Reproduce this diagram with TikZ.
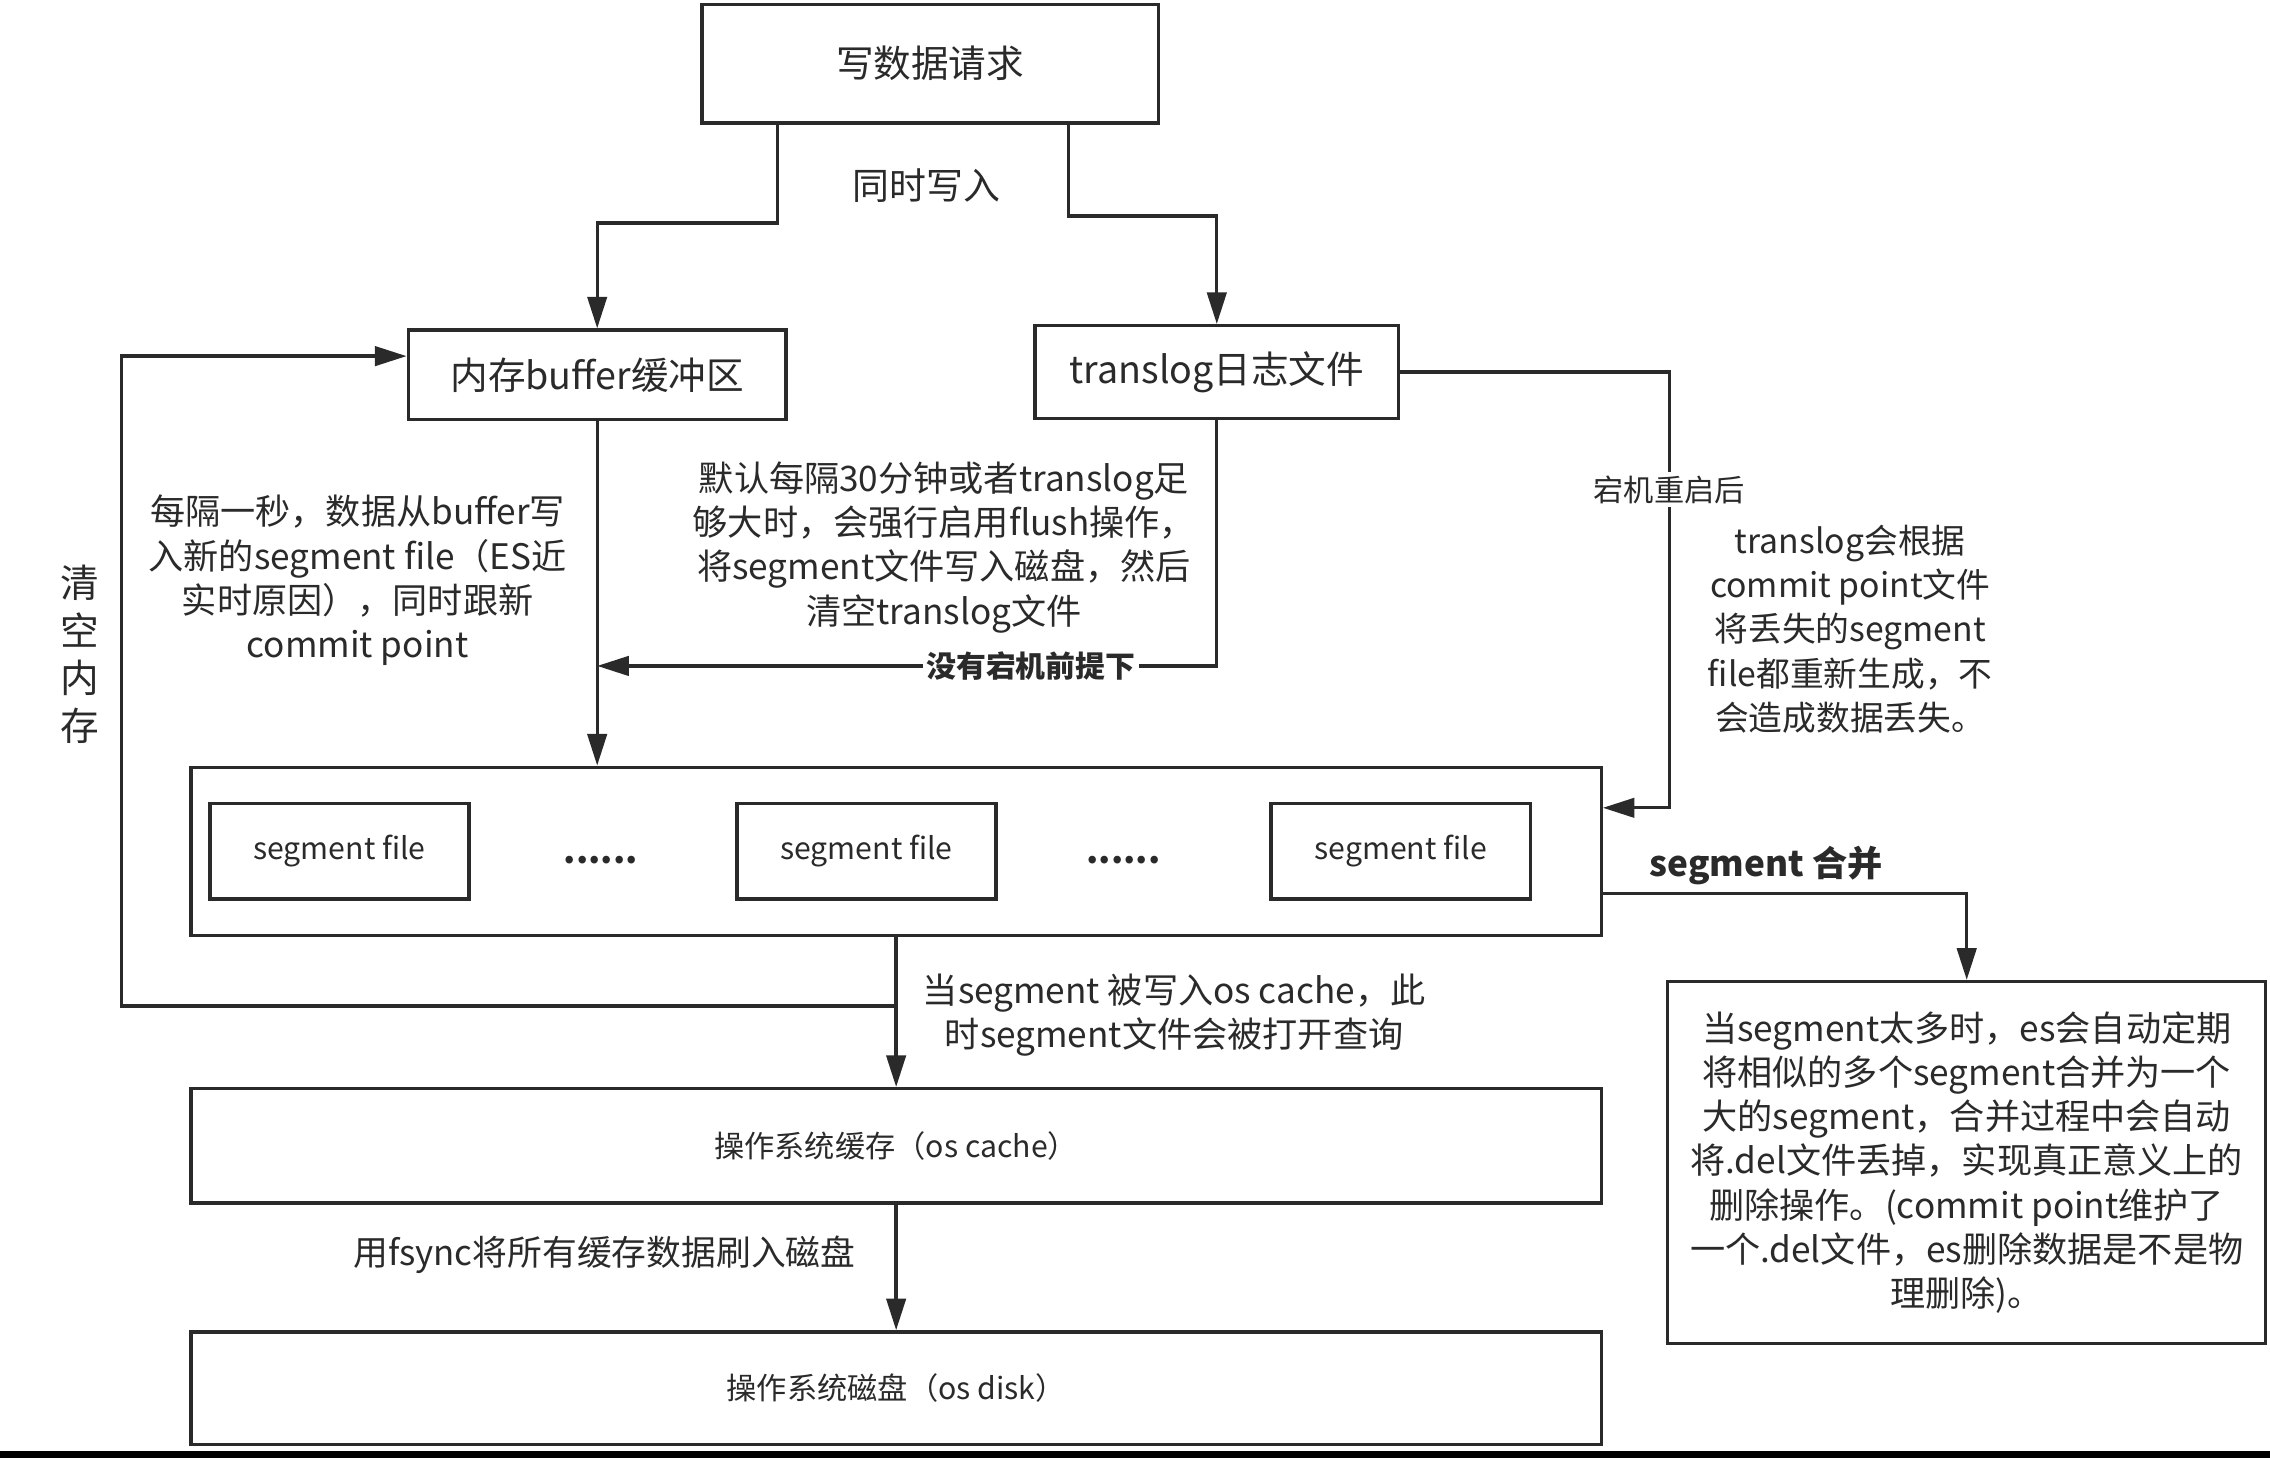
\documentclass[tikz,border=0pt]{standalone}
\usepackage{fontspec}
\setmainfont{Noto Sans CJK SC}
\usepackage{tikz}
\usetikzlibrary{positioning, shapes, arrows.meta}

\newlength{\dpx}
\setlength{\dpx}{0.14477mm}
\definecolor{ink}{HTML}{2A2A2A}

\begin{document}
\begin{tikzpicture}[
		x=\dpx, y=-\dpx,
		line width=0.95pt, draw=ink, text=ink,
		box/.style={rectangle, draw, inner sep=0pt, align=center},
		note/.style={inner sep=0pt, align=center, font=\fontsize{#1}{12.6pt}\selectfont},
		line/.style={draw, -{Triangle[length=9pt, width=5.5pt]}}
		]
		\useasboundingbox (0,0) rectangle (1568,1007);
		
		% Request and the two buffers
		\node[box, minimum width=315\dpx, minimum height=82\dpx, font=\fontsize{10.7pt}{13pt}\selectfont] (req) at (642.5,44) {写数据请求};
		\node[box, minimum width=261\dpx, minimum height=62\dpx, font=\fontsize{10.7pt}{13pt}\selectfont] (buf) at (412.5,259) {内存buffer缓冲区};
		\node[box, minimum width=251\dpx, minimum height=64\dpx, font=\fontsize{10.7pt}{13pt}\selectfont] (tlog) at (840.5,257) {translog日志文件};
		\node[note=10.5pt] (both) at (640,128) {同时写入};
		
		% Segment container
		\node[box, minimum width=974\dpx, minimum height=116\dpx] (seg) at (619,588) {};
		\node[box, minimum width=179\dpx, minimum height=66\dpx, font=\fontsize{8.6pt}{10pt}\selectfont] (sf1) at (234.5,588) {segment file};
		\node[box, minimum width=179\dpx, minimum height=66\dpx, font=\fontsize{8.6pt}{10pt}\selectfont] (sf2) at (598.5,588) {segment file};
		\node[box, minimum width=179\dpx, minimum height=66\dpx, font=\fontsize{8.6pt}{10pt}\selectfont] (sf3) at (967.5,588) {segment file};
		\node[note=8.6pt, font=\bfseries] (dots1) at (415,594) {......};
		\node[note=8.6pt, font=\bfseries] (dots2) at (776,594) {......};
		
		% OS cache and disk
		\node[box, minimum width=974\dpx, minimum height=79\dpx, font=\fontsize{8.6pt}{10pt}\selectfont] (cache) at (619,791.5) {操作系统缓存（os cache）};
		\node[box, minimum width=974\dpx, minimum height=78\dpx, font=\fontsize{8.6pt}{10pt}\selectfont] (disk) at (619,959) {操作系统磁盘（os disk）};
		
		% Merge box
		\node[box, minimum width=413\dpx, minimum height=250\dpx, font=\fontsize{10pt}{12.6pt}\selectfont] (merge) at (1358.5,803) {当segment太多时，es会自动定期\\将相似的多个segment合并为一个\\大的segment，合并过程中会自动\\将.del文件丢掉，实现真正意义上的\\删除操作。(commit point维护了\\一个.del文件，es删除数据是不是物\\理删除)。};
		
		% Notes
		\node[note=10pt] (refresh) at (247,401) {每隔一秒，数据从buffer写\\入新的segment file（ES近\\实时原因），同时跟新\\commit point};
		\node[note=10pt] (flush) at (652,378) {默认每隔30分钟或者translog足\\够大时，会强行启用flush操作，\\将segment文件写入磁盘，然后\\清空translog文件};
		\node[note=9.6pt] (recover) at (1278,434.5) {translog会根据\\commit point文件\\将丢失的segment\\file都重新生成，不\\会造成数据丢失。};
		\node[note=10pt] (open) at (811,701) {当segment 被写入os cache，此\\时segment文件会被打开查询};
		\node[note=9.9pt, anchor=east] (fsync) at (592,867) {用fsync将所有缓存数据刷入磁盘};
		\node[inner sep=0pt, align=center, font=\fontsize{11pt}{13.6pt}\selectfont] (clear) at (55,452) {清\\空\\内\\存};
		
		% Connections
		\coordinate (jn) at (412.5,460);
		\coordinate (rt) at (1153,558);
		\coordinate (lp) at (619,695);
		\coordinate (lc) at (84,695);
		
		\path[line] ([xshift=-105.5\dpx]req.south) -- ++(0,68) -| (buf.north);
		\path[line] ([xshift=95.5\dpx]req.south) -- ++(0,63) -| (tlog.north);
		\path[line] (buf.south) -- (buf.south |- seg.north);
		\path[line] (tlog.south) |- node[pos=0.65, fill=white, inner sep=1pt, font=\fontsize{8.5pt}{10pt}\selectfont\bfseries] {没有宕机前提下} (jn);
		\path[line] (tlog.east) -| node[pos=0.635, fill=white, inner sep=1pt, font=\fontsize{8.6pt}{10pt}\selectfont] {宕机重启后} (rt) -- (seg.east |- rt);
		\path[line] ([yshift=-29\dpx]seg.east) -| (merge.north);
		\node[note=8.8pt, font=\bfseries] (mlabel) at (1220,598) {segment 合并};
		\path[line] (seg.south) -- (cache.north);
		\path[line] (lp) -- (lc) |- ([yshift=13\dpx]buf.west);
		\path[line] (cache.south) -- (disk.north);
		
		% Bottom edge
		\fill[black] (0,1002) rectangle (1568,1007);
		
	\end{tikzpicture}
\end{document}
